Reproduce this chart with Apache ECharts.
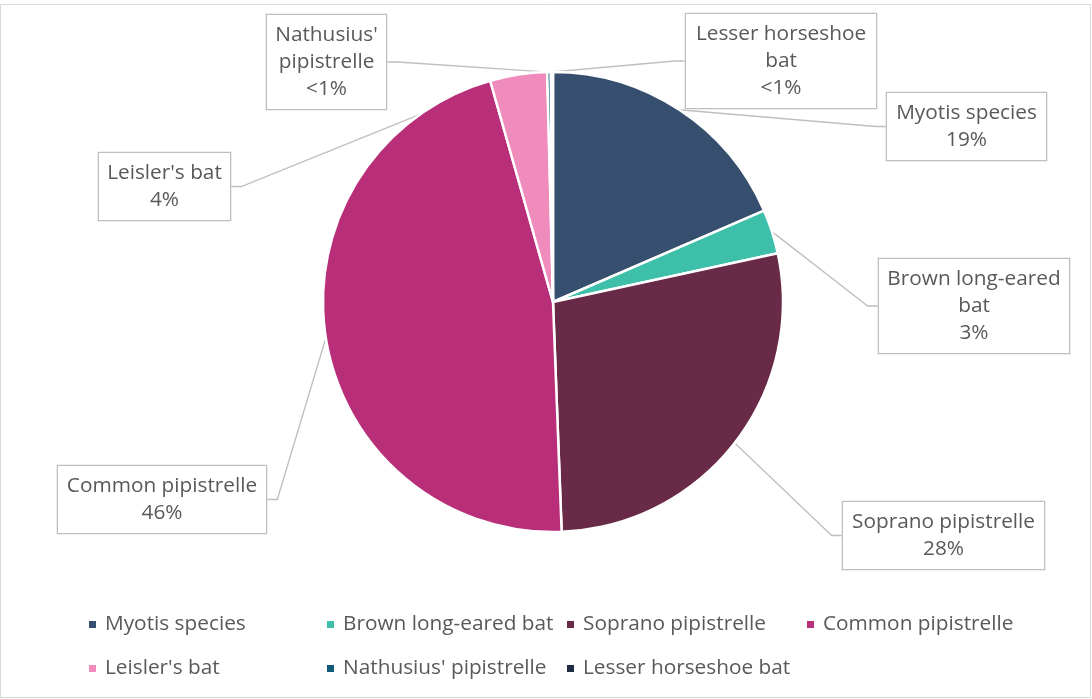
<!DOCTYPE html>
<html><head><meta charset="utf-8">
<script src="https://cdn.jsdelivr.net/npm/echarts@6/dist/echarts.min.js"></script>
<style>html,body{margin:0;padding:0;background:#fff;}#c{width:1092px;height:699px;}</style>
</head><body><div id="c"></div>
<script>
const categories = ["Myotis species","Brown long-eared bat","Soprano pipistrelle","Common pipistrelle","Leisler's bat","Nathusius' pipistrelle","Lesser horseshoe bat"];
const values = [18.5, 3.1, 27.8, 46.2, 4.0, 0.25, 0.15];
const labelNames = ["Myotis species","Brown long-eared\nbat","Soprano pipistrelle","Common pipistrelle","Leisler's bat","Nathusius'\npipistrelle","Lesser horseshoe\nbat"];
const colors = ["#374F6E","#3DBFAA","#692A48","#B82E78","#F08CBB","#0E5A7A","#1F2A44"];
// label box placement: [left, top, width]
const labelBoxes = [[886,93,161],[878,259,192],[842,502,203],[57,466,210],[98,153,133],[266,15,121],[685,14,192]];
const legendCols = [[0,4],[1,5],[2,6],[3]];
const legendLeft = [87,325,565,805];

const FONT = "'Open Sans', Lato, sans-serif";
const chart = echarts.init(document.getElementById('c'), null, {renderer:'canvas'});
const data = categories.map((n,i)=>({
  name:n, value:values[i],
  itemStyle:{color:colors[i]},
  label:{width:labelBoxes[i][2]-10}
}));
const option = {
  animation:false,
  color:colors,
  graphic:[{type:'rect',shape:{x:0.5,y:4.5,width:1090,height:693},style:{fill:'none',stroke:'#D9D9D9',lineWidth:1},silent:true}],
  legend: legendCols.map((col,k)=>({
    orient:'vertical', left:legendLeft[k], top:614, itemGap:23, padding:0,
    itemWidth:9, itemHeight:9, icon:'rect',
    data: col.map(i=>categories[i]),
    textStyle:{fontFamily:FONT, fontSize:20.8, color:'#595959', lineHeight:20, padding:[0,0,0,3]}
  })),
  series:[{
    type:'pie', center:[553,302], radius:230, startAngle:90, clockwise:true,
    avoidLabelOverlap:false,
    itemStyle:{borderColor:'#fff', borderWidth:2.5},
    data:data,
    label:{
      show:true, position:'outer', alignTo:'none',
      formatter:p=>labelNames[p.dataIndex]+'\n'+(p.percent<1?'<1%':Math.round(p.percent)+'%'),
      fontFamily:FONT, fontSize:20.8, color:'#595959', lineHeight:27, align:'center',
      backgroundColor:'#fff', borderColor:'#BFBFBF', borderWidth:1.3, padding:[7,4,6,4]
    },
    labelLine:{show:true, length:10, length2:10, lineStyle:{color:'#BFBFBF', width:1.3}},
    labelLayout:function(p){
      const b = labelBoxes[p.dataIndex];
      return {x:b[0]+b[2]/2, y:b[1], align:'center', verticalAlign:'top'};
    }
  }]
};
chart.setOption(option);
</script></body></html>
